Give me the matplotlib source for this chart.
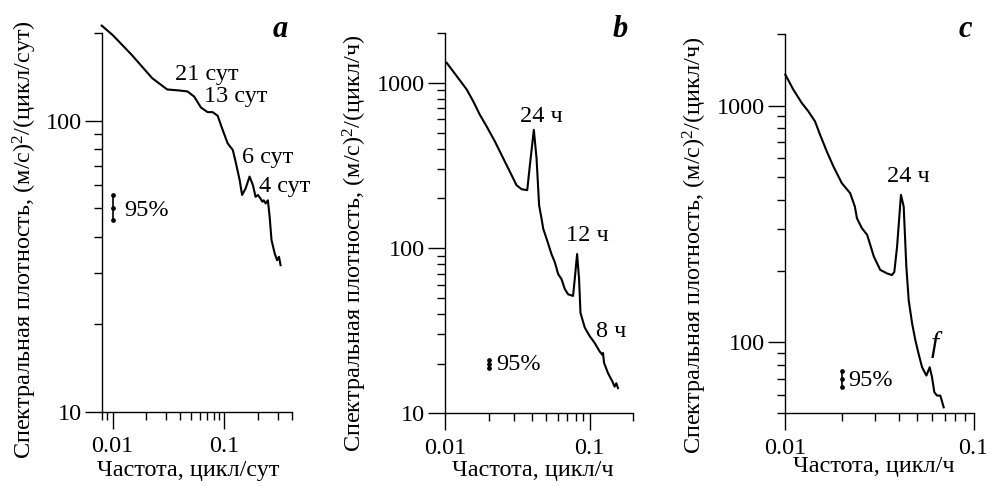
import numpy as np
import matplotlib
matplotlib.use("Agg")
import matplotlib.pyplot as plt
from matplotlib.ticker import LogLocator, NullFormatter, FixedLocator, FixedFormatter

plt.rcParams["font.family"] = ["Liberation Serif", "DejaVu Serif"]
plt.rcParams["mathtext.fontset"] = "custom"
plt.rcParams["mathtext.rm"] = "Liberation Serif"
plt.rcParams["mathtext.it"] = "Liberation Serif:italic"
FS = 17.5
plt.rcParams["font.size"] = FS

# ---- data: spectral density vs frequency ----
a_freq = [0.0080, 0.0100, 0.0149, 0.0226, 0.0308, 0.0394, 0.0468, 0.0537, 0.0617,
          0.0708, 0.0785, 0.0871, 0.0966, 0.107, 0.119, 0.127, 0.137, 0.144, 0.155,
          0.168, 0.180, 0.190, 0.1995, 0.210, 0.219, 0.225, 0.234, 0.245, 0.254,
          0.264, 0.282, 0.296, 0.308, 0.318]
a_psd = [212, 197, 168, 140, 128, 127, 126, 121, 111, 107, 107, 104, 92.9, 83.6, 79.3,
         71.4, 62.5, 55.6, 58.6, 64.3, 60.1, 54.8, 55.6, 54.1, 52.7, 53.3, 52.0, 53.3,
         46.8, 38.9, 35.0, 33.2, 34.1, 31.9]

b_freq = [0.01027, 0.01205, 0.01413, 0.01567, 0.01742, 0.0194, 0.02213, 0.02525,
          0.02805, 0.0312, 0.0338, 0.0370, 0.0386, 0.0411, 0.0429, 0.0447, 0.0465,
          0.0477, 0.0503, 0.0544, 0.0574, 0.0605, 0.0638, 0.0673, 0.0709, 0.0767,
          0.0788, 0.0818, 0.0844, 0.0863, 0.0924, 0.100, 0.108, 0.117, 0.122, 0.1235,
          0.1256, 0.1337, 0.1433, 0.1486, 0.1527, 0.1567]
b_psd = [1321, 1097, 910, 772, 640, 544, 441, 349, 290, 240, 227, 224, 318, 519, 349,
         181, 150, 131, 114, 92, 82, 69.6, 64.9, 56.4, 52.5, 51.3, 64.9, 92, 64.9, 40.6,
         33, 29.3, 26.7, 23.7, 22.6, 23.2, 20.2, 17.5, 15.6, 14.5, 15.2, 14.2]

c_freq = [0.0100, 0.01102, 0.01222, 0.01324, 0.01438, 0.01529, 0.0166, 0.0180, 0.01994,
          0.0221, 0.0234, 0.0240, 0.0255, 0.0272, 0.0295, 0.0319, 0.0347, 0.0368, 0.0379,
          0.0392, 0.0411, 0.0425, 0.0439, 0.0452, 0.0471, 0.0490, 0.0510, 0.0532, 0.0561,
          0.0584, 0.0601, 0.0618, 0.0639, 0.0665, 0.0693]
c_psd = [1352, 1169, 1026, 946, 857, 753, 640, 553, 470, 426, 374, 334, 303, 284, 230,
         202, 195, 192, 198, 253, 419, 374, 208, 150, 120, 102, 89.2, 78.3, 72.2, 78.3,
         71.0, 61.4, 59.4, 59.4, 53]

# 95% confidence bars: frequency, (low, mid, high)
a_ci = (0.01, (45.6, 50.0, 55.6))
b_ci = (0.02, (18.8, 20.0, 21.1))
c_ci = (0.02, (64.4, 70.0, 75.4))

# tick labels
x_major = [0.01, 0.1]
x_labels = ["0.01", "0.1"]
a_y_major, a_y_labels = [10, 100], ["10", "100"]
b_y_major, b_y_labels = [10, 100, 1000], ["10", "100", "1000"]
c_y_major, c_y_labels = [100, 1000], ["100", "1000"]

# peak labels: text, frequency, density
a_notes = [("21 сут", 0.0695, 143.6), ("13 сут", 0.127, 120.8),
           ("6 сут", 0.2415, 75.0), ("4 сут", 0.348, 59.3)]
b_notes = [("24 ч", 0.0465, 627), ("12 ч", 0.0962, 119), ("8 ч", 0.140, 31.4)]
c_notes = [("24 ч", 0.0452, 501)]

W, H = 987, 486
fig = plt.figure(figsize=(W / 100, H / 100), dpi=100)


def px_axes(left, right, top, bottom):
    return fig.add_axes([left / W, 1 - bottom / H, (right - left) / W, (bottom - top) / H])


def style(ax, xlim, ylim, y_major, y_labels):
    ax.set_xscale("log")
    ax.set_yscale("log")
    ax.set_xlim(*xlim)
    ax.set_ylim(*ylim)
    for s in ("top", "right"):
        ax.spines[s].set_visible(False)
    for s in ("left", "bottom"):
        ax.spines[s].set_linewidth(1.0)
    ax.xaxis.set_major_locator(FixedLocator(x_major))
    ax.xaxis.set_major_formatter(FixedFormatter(x_labels))
    ax.yaxis.set_major_locator(FixedLocator(y_major))
    ax.yaxis.set_major_formatter(FixedFormatter(y_labels))
    ax.xaxis.set_minor_locator(LogLocator(subs=np.arange(2, 10)))
    ax.yaxis.set_minor_locator(LogLocator(subs=np.arange(2, 10)))
    ax.xaxis.set_minor_formatter(NullFormatter())
    ax.yaxis.set_minor_formatter(NullFormatter())
    ax.tick_params(which="major", direction="out", length=12.5, width=1.0, labelsize=FS)
    ax.tick_params(which="minor", direction="out", length=5.5, width=1.0)
    ax.tick_params(axis="x", which="major", pad=5)
    ax.tick_params(axis="y", which="major", pad=2)
    ax.patch.set_visible(False)


def ci_bar(ax, ci):
    f, (lo, mid, hi) = ci
    ax.plot([f, f], [lo, hi], color="black", lw=1.2)
    ax.plot([f, f, f], [lo, mid, hi], "o", color="black", ms=2.4)


ax_a = px_axes(101.7, 291.7, 33, 412)
ax_b = px_axes(445, 633.3, 33, 413.3)
ax_c = px_axes(785.3, 973.7, 34.3, 413.3)

style(ax_a, (0.008, 0.4), (10, 200), a_y_major, a_y_labels)
style(ax_b, (0.01, 0.2), (10, 2000), b_y_major, b_y_labels)
style(ax_c, (0.01, 0.1), (50, 2000), c_y_major, c_y_labels)

for ax, f, p in ((ax_a, a_freq, a_psd), (ax_b, b_freq, b_psd), (ax_c, c_freq, c_psd)):
    ax.plot(f, p, color="black", lw=1.5, clip_on=False, solid_joinstyle="round")

for ax, ci in ((ax_a, a_ci), (ax_b, b_ci), (ax_c, c_ci)):
    ci_bar(ax, ci)

ax_a.text(0.0126, 49.3, "95%", ha="left", va="center", fontsize=FS)
ax_b.text(0.0227, 19.7, "95%", ha="left", va="center", fontsize=FS)
ax_c.text(0.0217, 68.8, "95%", ha="left", va="center", fontsize=FS)

for ax, notes in ((ax_a, a_notes), (ax_b, b_notes), (ax_c, c_notes)):
    for txt, f, p in notes:
        ax.text(f, p, txt, ha="center", va="center", fontsize=FS)

ax_c.text(0.0618, 97.8, "f", ha="center", va="center", fontsize=21, style="italic")

# panel letters
for x, letter in ((280, "a"), (620, "b"), (965, "c")):
    fig.text(x / W, 1 - 37 / H, letter, ha="center", va="baseline",
             fontsize=22, fontweight="bold", style="italic")

# axis titles
ylab = "Спектральная плотность, (м/с)$^2$/(цикл/{})"
for x, y, unit in ((25, 240, "сут"), (355, 243, "ч"), (695, 245, "ч")):
    fig.text(x / W, 1 - y / H, ylab.format(unit), rotation=90,
             ha="center", va="center", fontsize=FS)

for x, y, unit in ((188, 470, "сут"), (533, 470, "ч"), (874, 466, "ч")):
    fig.text(x / W, 1 - y / H, "Частота, цикл/" + unit, ha="center", va="center", fontsize=FS)

fig.savefig("out.png", dpi=100)
